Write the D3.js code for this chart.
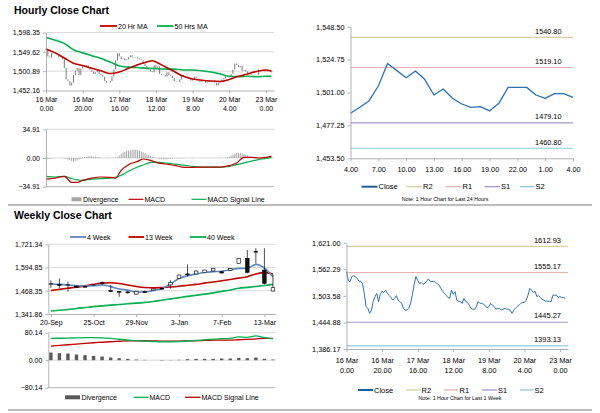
<!DOCTYPE html>
<html>
<head>
<meta charset="utf-8">
<script src="https://cdn.jsdelivr.net/npm/d3@7"></script>
<style>
  body { margin: 0; background: #fff; }
  svg { font-family: "Liberation Sans", Arial, sans-serif; }
  .axis text { font-size: 7px; fill: #000; }
  .axis path, .axis line { stroke: #a0a0a0; stroke-width: 0.8; }
</style>
</head>
<body>
<script>
// ---------- hourly data (last week, one value per hour) ----------
const hourlyClose = [1557,1538,1535,1546,1548,1546,1542,1536,1536,1531,1509,1480,1476,1465,1472,1491,1502,1509,1491,
  1507,1514,1511,1516,1509,1504,1500,1494,1498,1504,1494,1491,1487,1476,1472,1472,1476,1487,1505,1528,1546,1538,1531,
  1533,1529,1531,1536,1541,1536,1535,1536,1533,1531,1528,1520,1514,1509,1505,1500,1498,1516,1507,1513,1494,1492,1491,
  1487,1498,1491,1489,1483,1476,1474,1474,1480,1491,1487,1487,1485,1482,1477,1480,1487,1483,1480,1474,1476,1476,1472,
  1474,1476,1474,1474,1472,1465,1472,1476,1480,1483,1487,1489,1489,1494,1505,1520,1516,1511,1514,1502,1504,1500,1496,
  1494,1492,1492,1491,1491,1505,1505,1505,1500,1502,1500,1500,1498];
const hourDays = ["16 Mar", "16 Mar", "17 Mar", "18 Mar", "19 Mar", "20 Mar", "23 Mar"];
const hourTimes = ["0.00", "20.00", "16.00", "12.00", "8.00", "4.00", "0.00"];
const hourTickIdx = [0, 20, 40, 60, 80, 100, 120];

const maHours = [0,5,10,15,20,25,30,35,40,45,50,55,58,60,65,70,75,80,85,90,95,100,105,110,115,120,123];
const ma20 = [1557,1547,1534,1521,1515,1508,1502,1495,1499,1508,1517,1524,1527,1524,1512,1500,1488,1481,1478,1476,1475,1480,1488,1494,1500,1504,1501];
const ma50 = [1586,1579,1571,1555,1547,1540,1533,1524,1514,1511,1510,1508,1508,1507,1506,1506,1504,1504,1502,1499,1494,1488,1487,1488,1487,1488,1488];

const macdHours = [0,5,10,14,17,20,25,30,35,38,41,45,50,53,56,60,65,70,76,80,85,90,95,100,104,108,112,116,120,123];
const hMacd = [-25.6,-24.4,-22.3,-29.6,-29.6,-27.2,-24.4,-23.1,-23.5,-24.4,-15,-8.1,-4.1,-1.2,-2.2,-5.3,-7.3,-8.9,-11.4,-11.4,-11,-11,-11,-9.3,-6.1,0.8,0.8,0,0.8,2];
const hSignal = [-22.3,-23.1,-22.3,-25.2,-26.5,-27.2,-25.6,-25.2,-24.4,-23.5,-21,-16.2,-11,-8.5,-6,-4.9,-6.1,-7.3,-8.9,-10.2,-11,-11,-11,-10.2,-8.1,-6,-3.8,-2,-0.5,0.8];
const hDiverg = [-1,-1,-1,-0.5,-0.5, 0,0,0,0,-0.3,-0.6, -1,-2,-3,-4,-4.5,-4,-3,-2,-1,
  0.5,1,1.5,2,2,2,1.5,1.5,1,1,0.5, 0,0,0.3,0.3,0,0,0.3,0.5,
  1,3,5,6.5,7.5,8.5,9,9.5,10,10,10,9.5,9,8,7,6,4.5,3.5,2.5,1.5,1,0.5,
  -0.5,-1,-1,-1.5,-1.5,-1.5,-1,-1,-1,-0.5,-0.5,-0.5,
  -0.3,-0.5,-0.5,-0.3,0,0,0.3,0.3,0,0,0,0,0,-0.3,0,0,0,0,0,0,0,0.3,0.3,0,0,0.5,
  1,2,3,4,5,6,6,6,5.5,5,4,3,2.5,2,1.5,1,1, 0.5,0.5,0.5,0.5,0.5,0.5,0.3,0.3];

// ---------- last 24 hours ----------
const dayClose = [1486,1490.3,1494.9,1505.7,1522,1516.8,1511.7,1516.5,1510.5,1499.2,1503.5,1496.8,1492.7,1490.3,1490.8,1487.7,1493.2,1504.7,1504.7,1504.7,1499.2,1496.8,1500.2,1500.2,1497.5];
const dayLabels = ["4.00","7.00","10.00","13.00","16.00","19.00","22.00","1.00","4.00"];
const dayLevels = [1540.80, 1519.10, 1479.10, 1460.80];   // R2 R1 S1 S2
const weekLevels = [1612.93, 1555.17, 1445.27, 1393.13];
const levelNames = ["R2", "R1", "S1", "S2"];
const levelColors = ["#d4d0a4", "#e8b4b2", "#a697c6", "#8ecbdc"];

// ---------- weekly data ----------
const weekLabels = ["20-Sep","25-Oct","29-Nov","3-Jan","7-Feb","13-Mar"];
const wOpen  = [1503,1502,1499,1494,1492,1497,1512,1470,1465,1462,1450,1464,1470,1482,1500,1536,1560,1560,1567,1576,1572,1580,1618,1645,1683,1581,1467];
const wHigh  = [1525,1536,1518,1498,1496,1505,1518,1500,1467,1468,1468,1468,1480,1484,1525,1556,1612,1578,1583,1592,1575,1592,1647,1690,1700,1700,1558];
const wLow   = [1484,1482,1463,1484,1486,1494,1500,1463,1436,1452,1448,1458,1468,1476,1480,1534,1545,1558,1565,1574,1563,1578,1616,1563,1618,1503,1465];
const wClose = [1507,1499,1501,1486,1488,1501,1508,1465,1463,1459,1466,1462,1478,1480,1512,1554,1556,1576,1581,1590,1565,1590,1645,1569,1680,1509,1485];
const ma4w  = [1505,1503,1500,1496,1494,1496,1500,1491,1478,1472,1462,1462,1470,1480,1505,1535,1550,1560,1568,1572,1575,1582,1590,1591,1612,1592,1545];
const ma13w = [1470,1476,1482,1488,1495,1503,1510,1512,1508,1500,1492,1486,1484,1486,1489,1493,1498,1503,1510,1516,1523,1530,1537,1545,1560,1567,1560];
const ma40w = [1358,1362,1366,1372,1377,1382,1386,1390,1394,1398,1401,1405,1410,1417,1424,1431,1438,1444,1450,1457,1465,1473,1482,1487,1492,1497,1503];
const wMacd   = [63.5,64,64.5,65,65.5,65.5,65,63.5,61,58.6,57,55.7,54.5,53.7,53.7,54,56,58,59.5,61.5,62.5,63.5,68,66.5,71,65.5,62];
const wSignal = [41,43,45,47,49,50.8,52.3,53.7,55.2,56.7,56.7,56.7,56.2,55.7,55.7,55.7,56.2,56.7,57.6,58.6,58.6,58.6,59.6,60.6,62,63.5,63.5];
const wDiverg = [22.3,20.4,19.4,16.5,14.6,12.6,10.7,7.8,5.8,3.9,1.9,1,0,-1,0.5,1,2.9,3.9,3.9,3.9,4.9,4.9,6.8,5.8,7.8,3.9,1.9];

const fmt2 = d3.format(",.2f");
const svg = d3.select("body").append("svg").attr("width", 600).attr("height", 413);

// ---------- helpers ----------
function leftAxis(scale, ticks, x, f) {
  const g = svg.append("g").attr("class", "axis").attr("transform", `translate(${x},0)`)
    .call(d3.axisLeft(scale).tickValues(ticks).tickFormat(f || fmt2).tickSize(3).tickSizeOuter(0).tickPadding(3));
  return g;
}
function bottomAxis(scale, ticks, y, line1, line2, pad, size) {
  const g = svg.append("g").attr("class", "axis").attr("transform", `translate(0,${y})`)
    .call(d3.axisBottom(scale).tickValues(ticks).tickSize(3).tickSizeOuter(0).tickPadding(pad));
  g.selectAll(".tick text").each(function (d, i) {
    const t = d3.select(this).text(null).style("font-size", size + "px");
    t.append("tspan").attr("x", 0).text(line1[i]);
    if (line2) t.append("tspan").attr("x", 0).attr("dy", "1.35em").text(line2[i]);
  });
  return g;
}
function grid(scale, ticks, x0, x1) {
  svg.append("g").selectAll("line").data(ticks).enter().append("line")
    .attr("x1", x0).attr("x2", x1).attr("y1", d => scale(d)).attr("y2", d => scale(d))
    .attr("stroke", "#d0d0d0").attr("stroke-width", 0.8);
}
function legendLine(x1, x2, y, color, w, label, size) {
  svg.append("line").attr("x1", x1).attr("x2", x2).attr("y1", y).attr("y2", y)
    .attr("stroke", color).attr("stroke-width", w);
  svg.append("text").attr("x", x2 + 1).attr("y", y + 2.5).attr("font-size", size || 7).text(label);
}
function legendBox(x1, x2, y, color, label) {
  svg.append("rect").attr("x", x1).attr("y", y - 2).attr("width", x2 - x1).attr("height", 4).attr("fill", color);
  svg.append("text").attr("x", x2 + 1.5).attr("y", y + 2.5).attr("font-size", 7).text(label);
}
function path(xs, ys, color, w, curve) {
  const line = d3.line().x(d => d[0]).y(d => d[1]).curve(curve || d3.curveLinear);
  svg.append("path").attr("d", line(xs.map((x, i) => [x, ys[i]])))
    .attr("fill", "none").attr("stroke", color).attr("stroke-width", w).attr("stroke-linejoin", "round");
}
function title(txt, y) {
  svg.append("text").attr("x", 14).attr("y", y).attr("font-size", 10.5).attr("font-weight", "bold").text(txt);
}

// ---------- separators ----------
[205, 410].forEach(y => svg.append("line").attr("x1", 8).attr("x2", 592).attr("y1", y).attr("y2", y)
  .attr("stroke", "#a6a6a6").attr("stroke-width", 1.5));

// =============== HOURLY CLOSE CHART (top left) ===============
title("Hourly Close Chart", 13.5);
const xH = d3.scaleLinear().domain([0, 124.4]).range([46, 274]);
const yH = d3.scaleLinear().domain([1452.16, 1598.35]).range([90.5, 32.5]);
const hTicks = [1452.16, 1500.89, 1549.62, 1598.35];
grid(yH, hTicks.slice(1), 46, 274);
svg.append("g").selectAll("line").data(hourlyClose).enter().append("line")
  .attr("x1", (d, i) => xH(i)).attr("x2", (d, i) => xH(i))
  .attr("y1", (d, i) => yH(i ? hourlyClose[i - 1] : d) + (i ? 0 : 1)).attr("y2", d => yH(d))
  .attr("stroke", "#7a7a7a").attr("stroke-width", 1);
path(maHours.map(xH), ma50.map(yH), "#00b050", 1.6, d3.curveMonotoneX);
path(maHours.map(xH), ma20.map(yH), "#c00000", 1.6, d3.curveMonotoneX);
leftAxis(yH, hTicks, 46);
bottomAxis(xH, hourTickIdx, 90.5, hourDays, hourTimes, 3.5, 7);
legendLine(100, 117, 26, "#c00000", 1.8, "20 Hr MA");
legendLine(157, 173.5, 26, "#00b050", 1.8, "50 Hrs MA");

// hourly MACD
const yHM = d3.scaleLinear().domain([-34.91, 34.91]).range([186.7, 129.3]);
grid(yHM, [34.91, 0], 46, 274);
svg.append("g").selectAll("line").data(hDiverg).enter().append("line")
  .attr("x1", (d, i) => xH(i)).attr("x2", (d, i) => xH(i))
  .attr("y1", yHM(0)).attr("y2", d => yHM(d))
  .attr("stroke", "#909090").attr("stroke-width", 0.8);
path(macdHours.map(xH), hSignal.map(yHM), "#00b050", 1.2, d3.curveMonotoneX);
path(macdHours.map(xH), hMacd.map(yHM), "#c00000", 1.2, d3.curveMonotoneX);
leftAxis(yHM, [-34.91, 0, 34.91], 46);
svg.append("line").attr("x1", 46).attr("x2", 274).attr("y1", yHM(-34.91)).attr("y2", yHM(-34.91))
  .attr("stroke", "#a0a0a0").attr("stroke-width", 0.8);
legendBox(71.5, 81.5, 199.3, "#a6a6a6", "Divergence");
legendLine(128.5, 143.5, 199.3, "#c00000", 1.2, "MACD");
legendLine(191.5, 206.5, 199.3, "#00b050", 1.2, "MACD Signal Line");

// =============== LAST 24 HOURS (top right) ===============
const xD = d3.scaleLinear().domain([0, 24]).range([350.5, 573]);
const yD = d3.scaleLinear().domain([1453.5, 1548.5]).range([158.3, 26.7]);
dayLevels.forEach((v, i) => {
  svg.append("line").attr("x1", 350.5).attr("x2", 573).attr("y1", yD(v)).attr("y2", yD(v))
    .attr("stroke", levelColors[i]).attr("stroke-width", 1.1);
  svg.append("text").attr("x", 561.5).attr("y", yD(v) - 3.5).attr("text-anchor", "end")
    .attr("font-size", 7.3).text(v.toFixed(2));
});
path(dayClose.map((d, i) => xD(i)), dayClose.map(yD), "#2a72b5", 1.3);
leftAxis(yD, [1453.5, 1477.25, 1501, 1524.75, 1548.5], 350.5).selectAll("text").style("font-size", "7.3px");
bottomAxis(xD, d3.range(0, 25, 3), 158.3, dayLabels, null, 6, 7.3);
legendLine(361.5, 377.5, 186.7, "#1f5f99", 2, "Close", 7.5);
["R2", "R1", "S1", "S2"].forEach((n, i) => {
  const xs = [[406.5, 422], [445.5, 461.5], [484.5, 500], [520, 534.5]][i];
  legendLine(xs[0], xs[1], 186.7, levelColors[i], 1.3, levelNames[i], 7.5);
});
svg.append("text").attr("x", 445).attr("y", 200.5).attr("text-anchor", "middle").attr("font-size", 5.3)
  .text("Note: 1 Hour Chart for Last 24 Hours");

// =============== WEEKLY CLOSE CHART (bottom left) ===============
title("Weekly Close Chart", 218.5);
const xW = d3.scaleLinear().domain([-0.3, 26.3]).range([48.3, 275.5]);
const yW = d3.scaleLinear().domain([1341.86, 1721.34]).range([314, 244.3]);
const wTicks = [1341.86, 1468.35, 1594.85, 1721.34];
grid(yW, wTicks.slice(1), 48.3, 275.5);
path(ma40w.map((d, i) => xW(i)), ma40w.map(yW), "#00b050", 1.6, d3.curveMonotoneX);
path(ma13w.map((d, i) => xW(i)), ma13w.map(yW), "#c00000", 1.6, d3.curveMonotoneX);
path(ma4w.map((d, i) => xW(i)), ma4w.map(yW), "#5b87c2", 1.6, d3.curveMonotoneX);
const candles = svg.append("g");
wClose.forEach((c, i) => {
  const x = xW(i), o = wOpen[i];
  candles.append("line").attr("x1", x).attr("x2", x).attr("y1", yW(wHigh[i])).attr("y2", yW(wLow[i]))
    .attr("stroke", "#000").attr("stroke-width", 0.7);
  const top = yW(Math.max(o, c)), bot = yW(Math.min(o, c));
  candles.append("rect").attr("x", x - 1.8).attr("width", 3.6)
    .attr("y", top).attr("height", Math.max(bot - top, 0.8))
    .attr("fill", c >= o ? "#fff" : "#111").attr("stroke", "#000").attr("stroke-width", 0.6);
});
leftAxis(yW, wTicks, 48.3);
bottomAxis(xW, [0, 5, 10, 15, 20, 25], 314, weekLabels, null, 3, 7);
legendLine(70, 86, 237, "#5b87c2", 1.8, "4 Week");
legendLine(128.5, 144, 237, "#c00000", 1.8, "13 Week");
legendLine(190, 206, 237, "#00b050", 1.8, "40 Week");

// weekly MACD
const yWM = d3.scaleLinear().domain([-80.14, 80.14]).range([387.7, 332.7]);
grid(yWM, [80.14, 0], 48.3, 275.5);
svg.append("g").selectAll("rect").data(wDiverg).enter().append("rect")
  .attr("x", (d, i) => xW(i) - 1.7).attr("width", 3.4)
  .attr("y", d => yWM(Math.max(d, 0))).attr("height", d => Math.abs(yWM(d) - yWM(0)))
  .attr("fill", "#595959");
path(wSignal.map((d, i) => xW(i)), wSignal.map(yWM), "#c00000", 1.3, d3.curveMonotoneX);
path(wMacd.map((d, i) => xW(i)), wMacd.map(yWM), "#00b050", 1.3, d3.curveMonotoneX);
leftAxis(yWM, [-80.14, 0, 80.14], 48.3);
svg.append("line").attr("x1", 48.3).attr("x2", 275.5).attr("y1", yWM(-80.14)).attr("y2", yWM(-80.14))
  .attr("stroke", "#a0a0a0").attr("stroke-width", 0.8);
legendBox(65, 80, 397.3, "#595959", "Divergence");
legendLine(133.5, 148.5, 397.3, "#00b050", 1.3, "MACD");
legendLine(185, 200.5, 397.3, "#c00000", 1.3, "MACD Signal Line");

// =============== LAST WEEK HOURLY (bottom right) ===============
const xL = d3.scaleLinear().domain([0, 124.5]).range([346.5, 568]);
const yL = d3.scaleLinear().domain([1386.17, 1621]).range([349, 242.7]);
weekLevels.forEach((v, i) => {
  svg.append("line").attr("x1", 346.5).attr("x2", 568).attr("y1", yL(v)).attr("y2", yL(v))
    .attr("stroke", levelColors[i]).attr("stroke-width", 1.1);
  svg.append("text").attr("x", 561).attr("y", yL(v) - 3.8).attr("text-anchor", "end")
    .attr("font-size", 7.5).text(v.toFixed(2));
});
path(hourlyClose.map((d, i) => xL(i)), hourlyClose.map(yL), "#2a72b5", 1);
leftAxis(yL, [1386.17, 1444.88, 1503.58, 1562.29, 1621], 346.5).selectAll("text").style("font-size", "7.3px");
bottomAxis(xL, hourTickIdx, 349, hourDays, hourTimes, 5.5, 7.3);
legendLine(358, 373, 390, "#1f5f99", 2, "Close", 7.5);
["R2", "R1", "S1", "S2"].forEach((n, i) => {
  const xs = [[406, 420.5], [444, 458.5], [482, 497], [520, 533.5]][i];
  legendLine(xs[0], xs[1], 390, levelColors[i], 1.3, levelNames[i], 7.5);
});
svg.append("text").attr("x", 460).attr("y", 400.3).attr("text-anchor", "middle").attr("font-size", 5.3)
  .text("Note: 1 Hour Chart for Last 1 Week");
</script>
</body>
</html>
